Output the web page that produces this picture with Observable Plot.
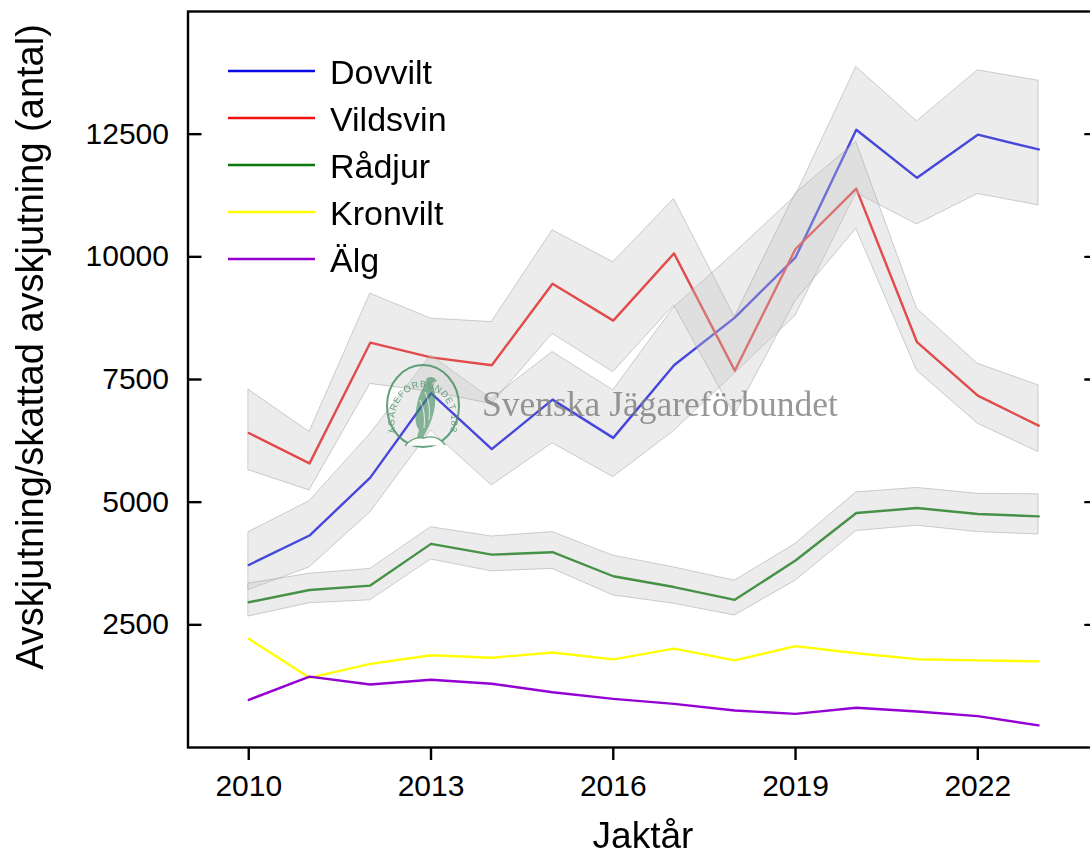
<!DOCTYPE html>
<html><head><meta charset="utf-8">
<script src="https://cdn.jsdelivr.net/npm/d3@7"></script>
<script src="https://cdn.jsdelivr.net/npm/@observablehq/plot@0.6"></script>
<style>
html,body{margin:0;padding:0;background:#fff;}
#chart{width:1090px;height:856px;overflow:hidden;}
</style>
</head><body><div id="chart"></div>
<script>
// ---- data ----
const years = [2010, 2011, 2012, 2013, 2014, 2015, 2016, 2017, 2018, 2019, 2020, 2021, 2022, 2023];

const dovvilt   = [3720, 4320, 5500, 7220, 6080, 7090, 6310, 7790, 8760, 9990, 12590, 11610, 12490, 12190];
const dovviltLo = [3210, 3670, 4790, 6460, 5340, 6200, 5510, 6450, 7620, 8800, 11300, 10660, 11280, 11050];
const dovviltHi = [4390, 5020, 6390, 7990, 7100, 8060, 7280, 8970, 10080, 11240, 13870, 12760, 13800, 13590];

const vildsvin   = [6410, 5790, 8250, 7950, 7790, 9450, 8700, 10070, 7680, 10160, 11390, 8260, 7170, 6560];
const vildsvinLo = [5650, 5240, 7410, 7250, 7000, 8430, 7650, 9010, 6770, 9100, 10570, 7680, 6600, 6020];
const vildsvinHi = [7290, 6430, 9250, 8740, 8670, 10540, 9890, 11180, 8770, 11290, 12340, 8940, 7820, 7380];

const radjur   = [2960, 3210, 3300, 4150, 3930, 3980, 3490, 3270, 3010, 3810, 4780, 4880, 4760, 4710];
const radjurLo = [2670, 2940, 3000, 3830, 3590, 3640, 3100, 2930, 2690, 3400, 4410, 4520, 4390, 4340];
const radjurHi = [3340, 3540, 3640, 4490, 4300, 4390, 3910, 3670, 3400, 4150, 5200, 5290, 5170, 5160];

const kronvilt = [2215, 1420, 1705, 1880, 1830, 1935, 1795, 2015, 1775, 2065, 1920, 1800, 1775, 1755];
const alg      = [970, 1445, 1285, 1380, 1300, 1125, 990, 890, 755, 685, 810, 735, 640, 450];

const seriesNames = ["Dovvilt", "Vildsvin", "Rådjur", "Kronvilt", "Älg"];
const seriesColors = ["#0a0ae6", "#f01010", "#0a780a", "#ffff00", "#9400d3"];
const seriesValues = [dovvilt, vildsvin, radjur, kronvilt, alg];
const bandLo = [dovviltLo, vildsvinLo, radjurLo, null, null];
const bandHi = [dovviltHi, vildsvinHi, radjurHi, null, null];

const xTicks = [2010, 2013, 2016, 2019, 2022];
const yTicks = [2500, 5000, 7500, 10000, 12500];

const xTitle = "Jaktår";
const yTitle = "Avskjutning/skattad avskjutning (antal)";
const watermarkText = "Svenska Jägareförbundet";
const logoText = "JÄGAREFÖRBUNDET 1830";

// ---- tables ----
const lineData = [];
const bandData = [];
seriesNames.forEach((s, i) => {
  years.forEach((yr, j) => {
    lineData.push({series: s, year: yr, value: seriesValues[i][j]});
    if (bandLo[i]) bandData.push({series: s, year: yr, lo: bandLo[i][j], hi: bandHi[i][j]});
  });
});

// a plain tick stroke for the inward ticks on the (cropped) right edge
const tickShape = {draw(context, l) { context.moveTo(0, 0); context.lineTo(0, -l); }};

const plot = Plot.plot({
  width: 1090, height: 856,
  marginLeft: 187.5, marginRight: -8.8, marginTop: 11, marginBottom: 109,
  style: {fontFamily: "'Liberation Sans', Arial, sans-serif", fontSize: "30px", color: "#000", background: "#fff"},
  x: {domain: [2009, 2024], label: null},
  y: {domain: [0, 15000], label: null},
  color: {domain: seriesNames, range: seriesColors},
  marks: [
    Plot.line(lineData, {x: "year", y: "value", z: "series", stroke: "series", strokeWidth: 2.4}),
    Plot.areaY(bandData, {x: "year", y1: "lo", y2: "hi", z: "series", fill: "#c4c4c4", fillOpacity: 0.33,
      stroke: "#a0a0a0", strokeOpacity: 0.5, strokeWidth: 1}),
    Plot.frame({stroke: "#000", strokeWidth: 2.4}),
    Plot.axisY({ticks: yTicks, anchor: "left", tickSize: -14, tickPadding: 33, strokeWidth: 2.4,
      tickFormat: "d", fontSize: 30, label: null}),
    Plot.vector(yTicks, {y: d => d, frameAnchor: "right", length: 14, rotate: -90, anchor: "start",
      shape: tickShape, stroke: "#000", strokeWidth: 2.4}),
    Plot.axisX({ticks: xTicks, anchor: "bottom", tickSize: 13, strokeWidth: 2.4, tickPadding: 14,
      tickFormat: "d", fontSize: 30, label: null})
  ]
});
document.getElementById("chart").appendChild(plot);

const svg = d3.select(plot);
const NS = "Liberation Sans, Arial, sans-serif";

// watermark
const wm = svg.append("g").attr("opacity", 0.8).attr("text-anchor", "start");
const logo = wm.append("g");
const G = "#3f8b5e";
logo.append("ellipse").attr("cx", 423).attr("cy", 406).attr("rx", 36).attr("ry", 41)
  .attr("fill", "none").attr("stroke", G).attr("stroke-width", 2);
logo.append("path").attr("id", "logoArc")
  .attr("d", "M 396 432 A 28.5 34 0 1 1 450 432").attr("fill", "none");
logo.append("text").attr("font-family", NS).attr("font-size", 9).attr("fill", G)
  .attr("letter-spacing", 0.9)
  .append("textPath").attr("href", "#logoArc").attr("startOffset", "50%").attr("text-anchor", "middle")
  .text(logoText);
// stylised eagle
logo.append("path")
  .attr("d", "M427 378 Q433 375 437 381 L432 383 Q436 392 435 405 Q433 420 426 432 L422 440 L416 441 L419 430 Q414 424 416 410 Q418 395 424 386 Z")
  .attr("fill", G).attr("opacity", 0.75);
logo.append("path")
  .attr("d", "M420 400 Q426 412 424 428 M425 392 Q431 405 429 420")
  .attr("fill", "none").attr("stroke", "#ffffff").attr("stroke-width", 1).attr("opacity", 0.8);
logo.append("path")
  .attr("d", "M405 446 Q413 436 424 438 Q437 434 445 445")
  .attr("fill", "#ffffff").attr("stroke", G).attr("stroke-width", 1.3);
wm.append("text").attr("x", 482).attr("y", 416)
  .attr("font-family", "'Liberation Serif', 'DejaVu Serif', serif").attr("font-size", 35.5)
  .attr("fill", "#7d7d7d").text(watermarkText);

// legend
const lg = svg.append("g").attr("text-anchor", "start");
seriesNames.forEach((s, i) => {
  const yy = 71 + 47 * i;
  lg.append("line").attr("x1", 228).attr("x2", 315).attr("y1", yy).attr("y2", yy)
    .attr("stroke", seriesColors[i]).attr("stroke-width", 2.6);
  lg.append("text").attr("x", 330).attr("y", yy + 13).attr("font-family", NS)
    .attr("font-size", 34).attr("fill", "#000").text(s);
});

// axis titles
svg.append("text").attr("x", 643).attr("y", 848).attr("text-anchor", "middle")
  .attr("font-family", NS).attr("font-size", 37).attr("fill", "#000").text(xTitle);
svg.append("text").attr("transform", "translate(43,347) rotate(-90)").attr("text-anchor", "middle")
  .attr("font-family", NS).attr("font-size", 38).attr("fill", "#000").text(yTitle);
</script>
</body></html>
